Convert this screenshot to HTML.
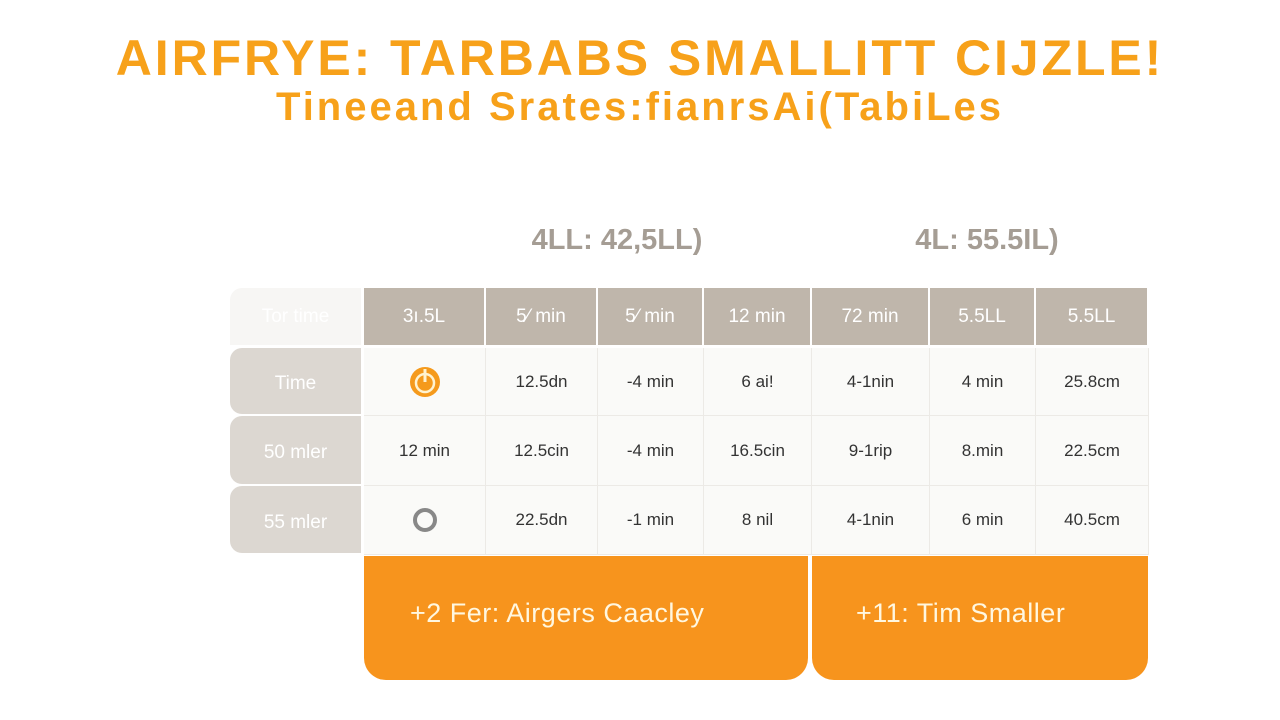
<!DOCTYPE html>
<html><head><meta charset="utf-8"><style>
body{margin:0;width:1280px;height:720px;background:#fff;position:relative;overflow:hidden;font-family:"Liberation Sans","DejaVu Sans",sans-serif}
div{position:absolute;box-sizing:border-box}
.t{left:0;width:1280px;text-align:center;color:#f7a11a;font-weight:bold;white-space:nowrap}
.g{color:#a59d94;font-weight:bold;font-size:29px;text-align:center}
.c{display:flex;align-items:center;justify-content:center;font-size:17px;color:#333}
.h{background:#bfb6ab;color:#fff;font-size:19px}
.b{background:#fafaf8;border-right:1px solid #eceae6;border-bottom:1px solid #eceae6}
.l{background:#dcd7d1;color:#fff;font-size:19px;border-radius:12px 0 0 12px;padding-top:6px}
.o{background:#f7941d;color:#fff7e0;font-size:27px;letter-spacing:0.5px;display:flex;align-items:center;border-radius:0 0 22px 22px}
</style></head><body>
<div class="t" style="top:29px;font-size:50px;letter-spacing:2.9px">AIRFRYE: TARBABS SMALLITT CIJZLE!</div>
<div class="t" style="top:85px;font-size:40px;letter-spacing:3px">Tineeand Srates:fianrsAi(TabiLes</div>
<div class="g" style="left:447px;width:340px;top:224px">4LL: 42,5LL)</div>
<div class="g" style="left:842px;width:290px;top:224px">4L: 55.5IL)</div>
<div id="tbl"></div>
<div class="o" style="left:364px;top:556px;width:444px;height:124px;padding-left:46px;padding-bottom:10px">+2 Fer: Airgers Caacley</div>
<div class="o" style="left:812px;top:556px;width:336px;height:124px;padding-left:44px;padding-bottom:10px">+11: Tim Smaller</div>
<script>
const headers=["3\u0131.5L","5\u2044 min","5\u2044 min","12 min","72 min","5.5LL","5.5LL"];
const rowLabels=["Time","50 mler","55 mler"];
const cells=[["ICON1","12.5dn","-4 min","6 ai!","4-1nin","4 min","25.8cm"],["12 min","12.5cin","-4 min","16.5cin","9-1rip","8.min","22.5cm"],["ICON2","22.5dn","-1 min","8 nil","4-1nin","6 min","40.5cm"]];
const colX=[364,486,598,704,812,930,1036,1149];
const rowY=[348,416,486,555];
const body=document.body;
function mk(cls,x,y,w,h,txt,name){const d=document.createElement('div');d.className='c '+cls;d.style.cssText=`left:${x}px;top:${y}px;width:${w}px;height:${h}px`;


if(txt==='ICON1')d.innerHTML='<svg width="34" height="34" viewBox="0 0 34 34"><circle cx="17" cy="17" r="15" fill="#f59a1c"/><circle cx="17" cy="18" r="9" fill="none" stroke="#fff3d0" stroke-width="2.5"/><rect x="15.5" y="4" width="3" height="13" fill="#fff3d0"/></svg>';
else if(txt==='ICON2')d.innerHTML='<svg width="30" height="30" viewBox="0 0 30 30"><circle cx="15" cy="15" r="10" fill="none" stroke="#888" stroke-width="4"/></svg>';
else d.textContent=txt;body.appendChild(d);return d;}
mk('h',230,288,131,57,'Tor time','header-corner').style.cssText+=';background:#f7f6f4;color:#fff;border-radius:12px 0 0 0';
headers.forEach((h,i)=>mk('h',colX[i],288,colX[i+1]-colX[i]-2,57,h,'column-header'));
rowLabels.forEach((r,j)=>{mk('l',230,rowY[j],131,rowY[j+1]-rowY[j]-2,r,'row-label');
cells[j].forEach((v,i)=>mk('b',colX[i],rowY[j],colX[i+1]-colX[i],rowY[j+1]-rowY[j],v,'table-cell'));});
</script>
</body></html>
